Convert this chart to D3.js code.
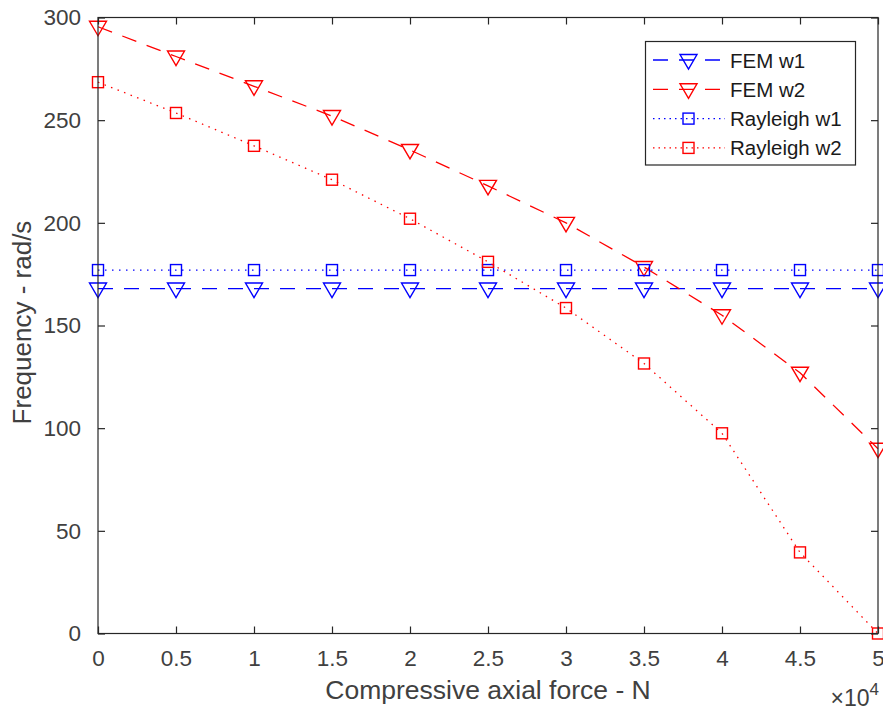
<!DOCTYPE html>
<html>
<head>
<meta charset="utf-8">
<script src="https://cdn.jsdelivr.net/npm/d3@7"></script>
<style>
  body { margin: 0; background: #fff; }
  text { font-family: "Liberation Sans", Arial, sans-serif; }
</style>
</head>
<body>
<div class="chart"></div>
<script>
// axial force in units of 1e4 N
const force = [0, 0.5, 1, 1.5, 2, 2.5, 3, 3.5, 4, 4.5, 5];
const femW1 = [168, 168, 168, 168, 168, 168, 168, 168, 168, 168, 168];
const femW2 = [295.5, 281, 266.5, 252, 235.5, 218, 200, 178.5, 155, 127, 90];
const rayW1 = [177, 177, 177, 177, 177, 177, 177, 177, 177, 177, 177];
const rayW2 = [268.5, 253.5, 237.5, 221, 202, 181, 158.5, 131.5, 97.5, 39.5, 0];
const xTicks = [0, 0.5, 1, 1.5, 2, 2.5, 3, 3.5, 4, 4.5, 5];
const yTicks = [0, 50, 100, 150, 200, 250, 300];

const seriesList = [
    {name: 'FEM w1', values: femW1, color: '#0000ff', dash: '15,11', marker: 'tri'},
    {name: 'FEM w2', values: femW2, color: '#ff0000', dash: '15,11', marker: 'tri'},
    {name: 'Rayleigh w1', values: rayW1, color: '#0000ff', dash: '1.5,5.5', marker: 'sq'},
    {name: 'Rayleigh w2', values: rayW2, color: '#ff0000', dash: '1.5,5.5', marker: 'sq'}
];

const W = 883, H = 711;
const padL = 98, padR = 878, padT = 17.5, padB = 633.5;
const axisColor = '#262626';
const textColor = '#404040';

const svg = d3.select('.chart')
    .append('svg')
    .attr('width', W)
    .attr('height', H);

const x = d3.scaleLinear().domain([0, 5]).range([padL, padR]);
const y = d3.scaleLinear().domain([0, 300]).range([padB, padT]);

// lines
const line = d3.line()
    .x((d, i) => x(force[i]))
    .y(d => y(d));

function drawMarker(g, type, cx, cy, color) {
    if (type === 'tri') {
        g.append('path')
            .attr('d', `M${cx - 8.5},${cy - 5.5}L${cx + 8.5},${cy - 5.5}L${cx},${cy + 9}Z`)
            .attr('fill', 'none')
            .attr('stroke', color)
            .attr('stroke-width', 1.4);
    } else {
        g.append('rect')
            .attr('x', cx - 5.5)
            .attr('y', cy - 5.5)
            .attr('width', 11)
            .attr('height', 11)
            .attr('fill', 'none')
            .attr('stroke', color)
            .attr('stroke-width', 1.4);
    }
}

seriesList.forEach(s => {
    const g = svg.append('g');
    g.append('path')
        .attr('d', line(s.values))
        .attr('fill', 'none')
        .attr('stroke', s.color)
        .attr('stroke-width', 1.3)
        .attr('stroke-dasharray', s.dash);
    s.values.forEach((v, i) => drawMarker(g, s.marker, x(force[i]), y(v), s.color));
});

// axes box
svg.append('rect')
    .attr('x', padL)
    .attr('y', padT)
    .attr('width', padR - padL)
    .attr('height', padB - padT)
    .attr('fill', 'none')
    .attr('stroke', axisColor)
    .attr('stroke-width', 1.2);

const axB = d3.axisBottom(x).tickValues(xTicks).tickSizeInner(-7).tickSizeOuter(0).tickPadding(17)
    .tickFormat(d => d3.format('~g')(d));
const axT = d3.axisTop(x).tickValues(xTicks).tickSizeInner(-7).tickSizeOuter(0).tickFormat('');
const axL = d3.axisLeft(y).tickValues(yTicks).tickSizeInner(-7).tickSizeOuter(0).tickPadding(17);
const axR = d3.axisRight(y).tickValues(yTicks).tickSizeInner(-7).tickSizeOuter(0).tickFormat('');

function styleAxis(g) {
    g.select('.domain').remove();
    g.selectAll('line').attr('stroke', axisColor).attr('stroke-width', 1.2);
    g.selectAll('text')
        .attr('fill', textColor)
        .style('font-size', '22.5px')
        .style('font-family', '"Liberation Sans", Arial, sans-serif');
}

svg.append('g').attr('transform', `translate(0,${padB})`).call(axB).call(styleAxis);
svg.append('g').attr('transform', `translate(0,${padT})`).call(axT).call(styleAxis);
svg.append('g').attr('transform', `translate(${padL},0)`).call(axL).call(styleAxis);
svg.append('g').attr('transform', `translate(${padR},0)`).call(axR).call(styleAxis);

// axis labels
svg.append('text')
    .attr('x', (padL + padR) / 2)
    .attr('y', 699)
    .attr('text-anchor', 'middle')
    .attr('fill', textColor)
    .style('font-size', '26.5px')
    .text('Compressive axial force - N');

svg.append('text')
    .attr('transform', `translate(31,${(padT + padB) / 2 - 3}) rotate(-90)`)
    .attr('text-anchor', 'middle')
    .attr('fill', textColor)
    .style('font-size', '26px')
    .text('Frequency - rad/s');

// exponent
const expo = svg.append('text')
    .attr('x', 879)
    .attr('y', 706)
    .attr('text-anchor', 'end')
    .attr('fill', textColor)
    .style('font-size', '23px');
expo.append('tspan').text('\u00d710');
expo.append('tspan')
    .attr('dy', -11)
    .style('font-size', '17px')
    .text('4');

// legend
const lg = svg.append('g');
lg.append('rect')
    .attr('x', 645.5)
    .attr('y', 41.5)
    .attr('width', 210)
    .attr('height', 123.5)
    .attr('fill', '#fff')
    .attr('stroke', axisColor)
    .attr('stroke-width', 1.2);

seriesList.forEach((s, i) => {
    const ly = 60 + i * 29.3;
    lg.append('line')
        .attr('x1', 653)
        .attr('x2', 725)
        .attr('y1', ly)
        .attr('y2', ly)
        .attr('stroke', s.color)
        .attr('stroke-width', 1.3)
        .attr('stroke-dasharray', s.marker === 'tri' ? '15,11' : '1.5,4');
    drawMarker(lg, s.marker, 688.5, ly, s.color);
    lg.append('text')
        .attr('x', 730)
        .attr('y', ly + 7.5)
        .attr('fill', '#1a1a1a')
        .style('font-size', '20.5px')
        .text(s.name);
});
</script>
</body>
</html>
